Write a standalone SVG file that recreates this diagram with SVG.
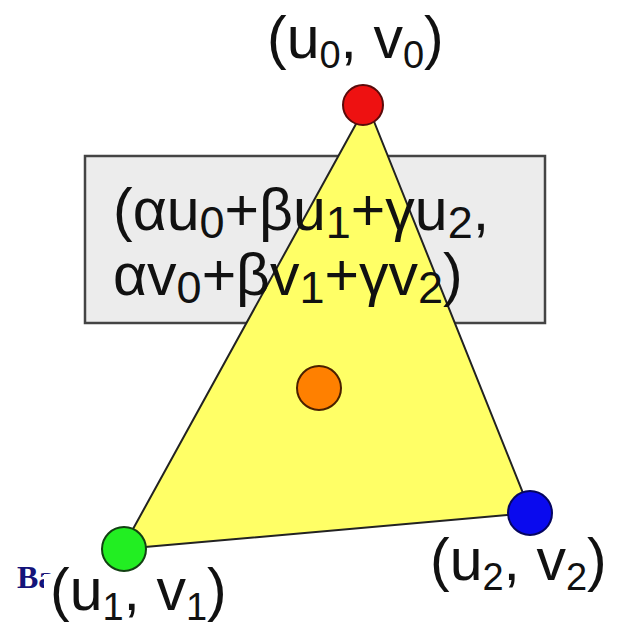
<svg xmlns="http://www.w3.org/2000/svg" width="617" height="625" viewBox="0 0 617 625">
<style>
.lbl{font-family:"Liberation Sans",Arial,sans-serif;font-size:59px;fill:#111}
.sub{font-size:38px}
.fml{font-family:"Liberation Sans",Arial,sans-serif;font-size:59px;fill:#111}
.fsub{font-size:45px}
.pt{stroke-width:2}
</style>
<rect width="617" height="625" fill="#fff"/>
<text x="17" y="588" font-family="Liberation Serif,Times New Roman,serif" font-weight="bold" font-size="32" fill="#14147a">Ba</text>
<rect x="44" y="574" width="200" height="51" fill="#fff"/>
<g id="box">
<rect x="85" y="156" width="460" height="167" fill="#ececec" stroke="#444" stroke-width="2.5"/>
</g>
<g id="connectors">
<polygon points="367,104 122,549 531,513" fill="#ffff66" stroke="#222" stroke-width="2" stroke-linejoin="round"/>
</g>
<g id="formula">
<text class="fml" x="113" y="230">(αu<tspan class="fsub" dy="8">0</tspan><tspan dy="-8">+βu</tspan><tspan class="fsub" dy="8">1</tspan><tspan dy="-8">+γu</tspan><tspan class="fsub" dy="8">2</tspan><tspan dy="-8">,</tspan></text>
<text class="fml" x="113" y="295">αv<tspan class="fsub" dy="8">0</tspan><tspan dy="-8">+βv</tspan><tspan class="fsub" dy="8">1</tspan><tspan dy="-8">+γv</tspan><tspan class="fsub" dy="8">2</tspan><tspan dy="-8">)</tspan></text>
</g>
<g id="v0">
<circle class="pt" cx="363" cy="105" r="20" fill="#ee1111" stroke="#5a0a0a"/>
<text class="lbl" x="267" y="58">(u<tspan class="sub" dy="10">0</tspan><tspan dy="-10">, v</tspan><tspan class="sub" dy="10">0</tspan><tspan dy="-10">)</tspan></text>
</g>
<g id="v1">
<circle class="pt" cx="124" cy="549" r="22" fill="#22ee22" stroke="#124012"/>
<text class="lbl" x="50" y="610">(u<tspan class="sub" dy="10">1</tspan><tspan dy="-10">, v</tspan><tspan class="sub" dy="10">1</tspan><tspan dy="-10">)</tspan></text>
</g>
<g id="v2">
<circle class="pt" cx="530" cy="513" r="22" fill="#0a0aee" stroke="#050560"/>
<text class="lbl" x="430" y="580">(u<tspan class="sub" dy="10">2</tspan><tspan dy="-10">, v</tspan><tspan class="sub" dy="10">2</tspan><tspan dy="-10">)</tspan></text>
</g>
<g id="p">
<circle class="pt" cx="319" cy="388" r="22" fill="#ff8000" stroke="#4a2000"/>
</g>
</svg>
